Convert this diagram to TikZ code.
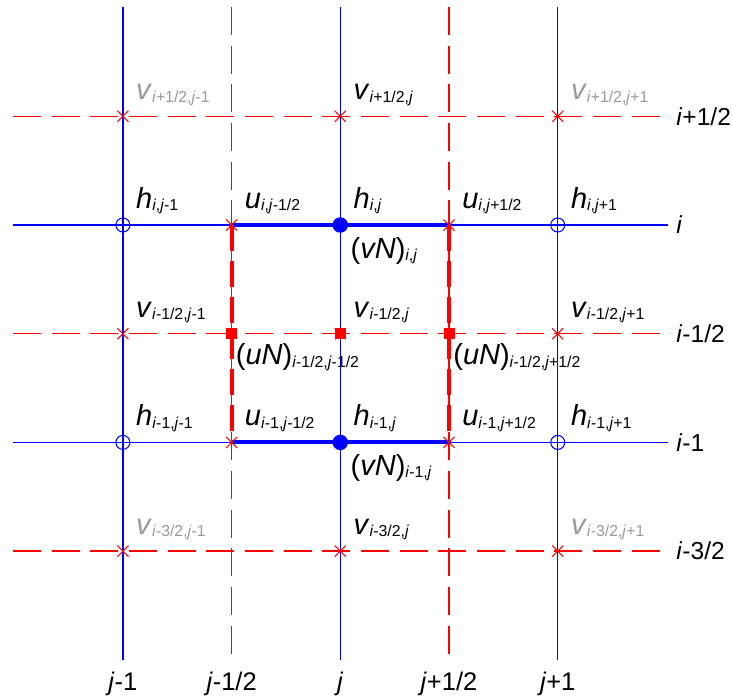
\documentclass[tikz,border=0pt]{standalone}
\usepackage{fontspec}
\setmainfont{Liberation Sans}
\usetikzlibrary{shapes.misc}
\newcommand{\ix}{\textit{i}}
\newcommand{\jx}{\textit{j}}
\newcommand{\sbs}[1]{\raisebox{-0.15ex}{\fontsize{9}{10}\selectfont #1}}
\tikzset{
  gridln/.style={blue, line width=0.7pt},
  halfln/.style={red, line width=0.7pt, dash pattern=on 16pt off 6pt},
  boldln/.style={blue, line width=2.3pt},
  bolddash/.style={red, line width=2.3pt, dash pattern=on 15pt off 5.5pt},
  vmark/.style={cross out, draw=red, line width=0.6pt, minimum size=0.2cm, inner sep=0pt},
  hopen/.style={circle, draw=blue, line width=0.6pt, minimum size=0.28cm, inner sep=0pt},
  hfull/.style={circle, fill=blue, minimum size=0.31cm, inner sep=0pt},
  qmark/.style={rectangle, fill=red, minimum size=0.22cm, inner sep=0pt},
  lbl/.style={anchor=base west, inner sep=0pt, xshift=0.26cm, yshift=0.33cm},
  glbl/.style={lbl, text=black!40},
  vnlbl/.style={anchor=base west, inner sep=0pt, xshift=0.2cm, yshift=-0.66cm},
  unlbl/.style={anchor=base west, inner sep=0pt, xshift=0.08cm, yshift=-0.62cm},
  rowlbl/.style={anchor=base west, inner sep=0pt, font=\fontsize{14}{16}\selectfont},
  collbl/.style={anchor=base, inner sep=0pt, font=\fontsize{14.5}{16}\selectfont}
}

\begin{document}
\begin{tikzpicture}[x=4.348cm,y=4.348cm,every node/.style={font=\fontsize{16.5}{18}\selectfont}]
  \useasboundingbox (-1.5653,-2.1757) rectangle (1.8017,1.0350);

  % --- griglia: linee intere sugli indici interi ---------------------------
  \foreach \c in {-1,0,1} {
    \draw[gridln] (\c,1.003) -- (\c,-2.001);
  }
  \foreach \r in {0,-1} {
    \draw[gridln] (-1.5055,\r) -- (1.5074,\r);
  }
  % --- griglia: linee tratteggiate sui mezzi indici ------------------------
  \foreach \c in {-0.5,0.5} {
    \draw[halfln] (\c,1.003) -- (\c,-2.001);
  }
  \foreach \r in {0.5,-0.5,-1.5} {
    \draw[halfln] (-1.5055,\r) -- (1.5074,\r);
  }

  % etichette di riga e di colonna
  \node[rowlbl] (ra) at (1.5442,0.46)  {\ix+1/2};
  \node[rowlbl] (rb) at (1.5442,-0.04) {\ix};
  \node[rowlbl] (rc) at (1.5442,-0.54) {\ix-1/2};
  \node[rowlbl] (rd) at (1.5442,-1.04) {\ix-1};
  \node[rowlbl] (re) at (1.5442,-1.54) {\ix-3/2};
  \node[collbl] (ca) at (-1,-2.139)   {\jx-1};
  \node[collbl] (cb) at (-0.5,-2.139) {\jx-1/2};
  \node[collbl] (cc) at (0,-2.139)    {\jx};
  \node[collbl] (cd) at (0.5,-2.139)  {\jx+1/2};
  \node[collbl] (ce) at (1,-2.139)    {\jx+1};

  % --- cella di controllo: lati spessi ------------------------------------
  \coordinate (cNW) at (-0.5,0);
  \coordinate (cNE) at (0.5,0);
  \coordinate (cSW) at (-0.5,-1);
  \coordinate (cSE) at (0.5,-1);
  \draw[boldln] (cNW) -- (cNE);
  \draw[boldln] (cSW) -- (cSE);
  \draw[bolddash] (cNW) -- (cSW);
  \draw[bolddash] (cNE) -- (cSE);

  % --- punti v (croci) sulle righe a mezzo indice -------------------------
  \foreach \r/\rn in {0.5/a,-0.5/b,-1.5/c} {
    \foreach \c/\cn in {-1/l,0/m,1/r} {
      \node[vmark] (v\rn\cn) at (\c,\r) {};
    }
  }
  % punti u
  \node[vmark] (uil)  at (cNW) {};
  \node[vmark] (uir)  at (cNE) {};
  \node[vmark] (ui1l) at (cSW) {};
  \node[vmark] (ui1r) at (cSE) {};
  % punti h
  \node[hopen] (hil)  at (-1,0)  {};
  \node[hfull] (him)  at (0,0)   {};
  \node[hopen] (hir)  at (1,0)   {};
  \node[hopen] (hi1l) at (-1,-1) {};
  \node[hfull] (hi1m) at (0,-1)  {};
  \node[hopen] (hi1r) at (1,-1)  {};
  % flussi
  \node[qmark] (ql) at (-0.5,-0.5) {};
  \node[qmark] (qm) at (0,-0.5)    {};
  \node[qmark] (qr) at (0.5,-0.5)  {};

  % --- etichette dei punti ------------------------------------------------
  \node[glbl] (lval) at (val) {\textit{v}\sbs{\ix+1/2,\jx-1}};
  \node[lbl]  (lvam) at (vam) {\textit{v}\sbs{\ix+1/2,\jx}};
  \node[glbl] (lvar) at (var) {\textit{v}\sbs{\ix+1/2,\jx+1}};

  \node[lbl] (lhil) at (hil) {\textit{h}\sbs{\ix,\jx-1}};
  \node[lbl] (luil) at (uil) {\textit{u}\sbs{\ix,\jx-1/2}};
  \node[lbl] (lhim) at (him) {\textit{h}\sbs{\ix,\jx}};
  \node[lbl] (luir) at (uir) {\textit{u}\sbs{\ix,\jx+1/2}};
  \node[lbl] (lhir) at (hir) {\textit{h}\sbs{\ix,\jx+1}};
  \node[vnlbl] (fvi) at (him) {(\textit{vN})\sbs{\ix,\jx}};

  \node[lbl] (lvbl) at (vbl) {\textit{v}\sbs{\ix-1/2,\jx-1}};
  \node[lbl] (lvbm) at (vbm) {\textit{v}\sbs{\ix-1/2,\jx}};
  \node[lbl] (lvbr) at (vbr) {\textit{v}\sbs{\ix-1/2,\jx+1}};
  \node[unlbl] (ful) at (ql) {(\textit{uN})\sbs{\ix-1/2,\jx-1/2}};
  \node[unlbl] (fur) at (qr) {(\textit{uN})\sbs{\ix-1/2,\jx+1/2}};

  \node[lbl] (lhi1l) at (hi1l) {\textit{h}\sbs{\ix-1,\jx-1}};
  \node[lbl] (lui1l) at (ui1l) {\textit{u}\sbs{\ix-1,\jx-1/2}};
  \node[lbl] (lhi1m) at (hi1m) {\textit{h}\sbs{\ix-1,\jx}};
  \node[lbl] (lui1r) at (ui1r) {\textit{u}\sbs{\ix-1,\jx+1/2}};
  \node[lbl] (lhi1r) at (hi1r) {\textit{h}\sbs{\ix-1,\jx+1}};
  \node[vnlbl] (fvi1) at (hi1m) {(\textit{vN})\sbs{\ix-1,\jx}};

  \node[glbl] (lvcl) at (vcl) {\textit{v}\sbs{\ix-3/2,\jx-1}};
  \node[lbl]  (lvcm) at (vcm) {\textit{v}\sbs{\ix-3/2,\jx}};
  \node[glbl] (lvcr) at (vcr) {\textit{v}\sbs{\ix-3/2,\jx+1}};

\end{tikzpicture}
\end{document}
